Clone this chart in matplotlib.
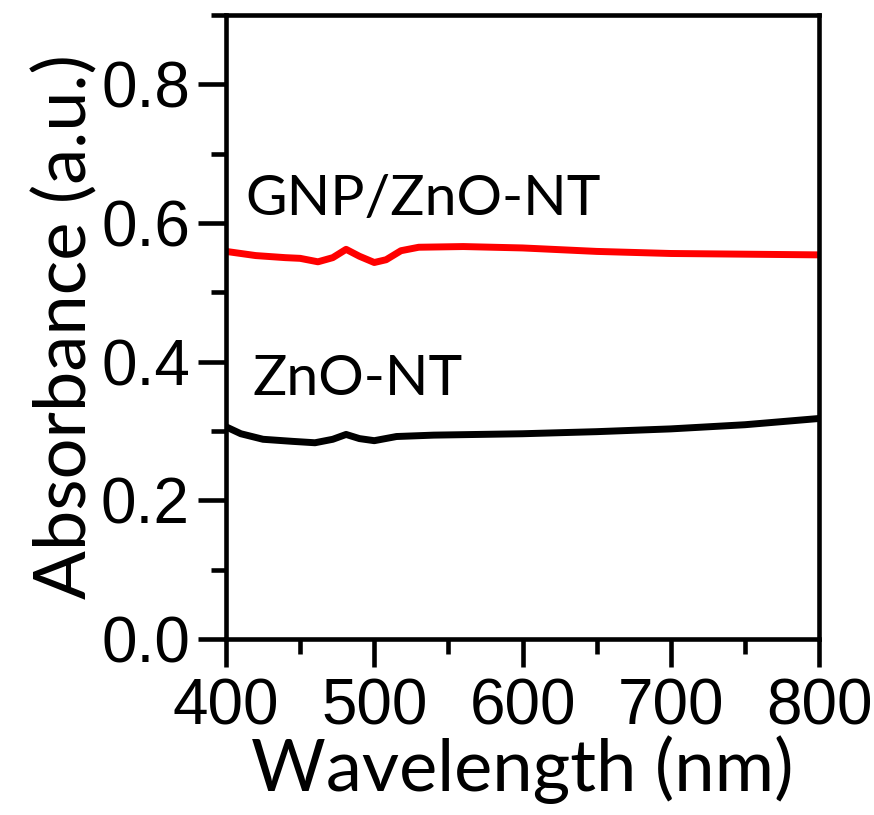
import matplotlib
matplotlib.use("Agg")
import matplotlib.pyplot as plt
from matplotlib import font_manager
from matplotlib.ticker import MultipleLocator

# ---- data ----
wl_gnp = [400, 420, 440, 450, 462, 472, 481, 490, 500, 508, 518, 530, 560, 600, 650, 700, 750, 800]
abs_gnp = [0.559, 0.553, 0.550, 0.549, 0.544, 0.550, 0.562, 0.552, 0.543, 0.547, 0.560, 0.565,
           0.566, 0.564, 0.559, 0.556, 0.555, 0.554]
wl_zno = [400, 410, 425, 445, 460, 472, 481, 490, 500, 515, 540, 600, 650, 700, 750, 800]
abs_zno = [0.306, 0.296, 0.288, 0.285, 0.283, 0.288, 0.295, 0.289, 0.286, 0.292, 0.294, 0.296,
           0.299, 0.303, 0.309, 0.318]
label_gnp = "GNP/ZnO-NT"
label_zno = "ZnO-NT"
xticks = [400, 500, 600, 700, 800]
yticks = [0.0, 0.2, 0.4, 0.6, 0.8]

names = {f.name for f in font_manager.fontManager.ttflist}
tick_font = "Liberation Sans Narrow" if "Liberation Sans Narrow" in names else "Liberation Sans"
label_font = "Lato"

fig = plt.figure(figsize=(8.74, 8.15), dpi=100)
ax = fig.add_axes([0.2586, 0.216, 0.6785, 0.7656])

ax.plot(wl_gnp, abs_gnp, color="#ff0000", lw=5, solid_joinstyle="round", solid_capstyle="butt")
ax.plot(wl_zno, abs_zno, color="black", lw=5, solid_joinstyle="round", solid_capstyle="butt")

ax.set_xlim(400, 800)
ax.set_ylim(0, 0.9)
ax.set_xticks(xticks)
ax.set_yticks(yticks)
ax.set_yticklabels([f"{v:.1f}" for v in yticks])
ax.xaxis.set_minor_locator(MultipleLocator(50))
ax.yaxis.set_minor_locator(MultipleLocator(0.1))

for s in ax.spines.values():
    s.set_linewidth(3.3)

ax.tick_params(which="major", direction="out", length=20, width=3.3, pad=6)
ax.tick_params(which="minor", direction="out", length=11, width=3.3)
ax.tick_params(axis="x", which="major", pad=8)

for lab in ax.get_xticklabels() + ax.get_yticklabels():
    lab.set_fontfamily(tick_font)
    lab.set_fontsize(46)

ax.set_xlabel("Wavelength (nm)", fontfamily=label_font, fontsize=52, labelpad=-2)
ax.set_ylabel("Absorbance (a.u.)", fontfamily=label_font, fontsize=52, labelpad=2)

ax.text(413, 0.612, label_gnp, fontfamily=label_font, fontsize=41, color="black")
ax.text(418, 0.352, label_zno, fontfamily=label_font, fontsize=41, color="black")

fig.savefig("out.png", dpi=100)
